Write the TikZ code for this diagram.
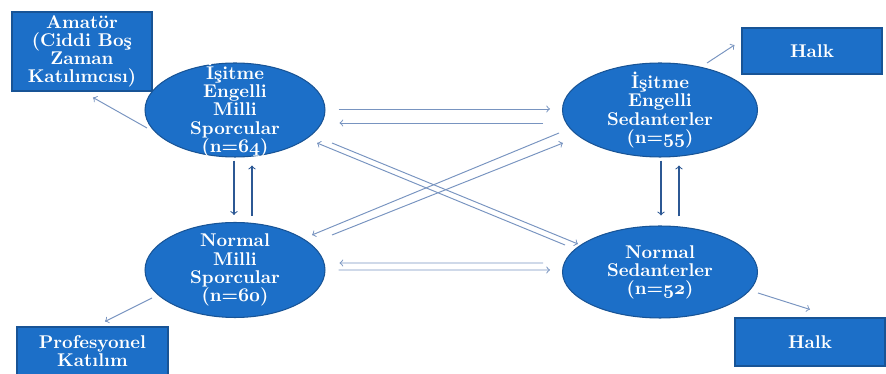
\documentclass[tikz,border=0pt]{standalone}
\usetikzlibrary{shapes.geometric}
\definecolor{ovalblue}{RGB}{28,111,200}
\definecolor{ovalline}{RGB}{24,84,150}
\definecolor{arrgrey}{RGB}{120,148,192}
\definecolor{arrdark}{RGB}{44,88,148}
\newcommand\osn[1]{{\boldmath$\oldstylenums{#1}$}}
\begin{document}
\begin{tikzpicture}[x=0.02cm, y=-0.02cm,
  oval/.style={ellipse, draw=ovalline, fill=ovalblue, line width=0.6pt, inner sep=0pt},
  box/.style={rectangle, draw=ovalline, fill=ovalblue, line width=0.6pt, inner sep=0pt},
  txt/.style={text=white, align=center, inner sep=0pt,
    font=\fontsize{10.5}{10.3}\selectfont\bfseries},
  arr/.style={->, draw=arrgrey, line width=0.55pt},
  varr/.style={->, draw=arrdark, line width=0.6pt}]
\useasboundingbox (0,0) rectangle (886,374);

% the four groups
\node[oval, minimum width=3.6cm, minimum height=1.88cm] (iem) at (235,110) {};
\node[oval, minimum width=3.9cm, minimum height=1.88cm] (ies) at (660,110) {};
\node[oval, minimum width=3.6cm, minimum height=1.9cm] (nms) at (235,270) {};
\node[oval, minimum width=3.9cm, minimum height=1.84cm] (nse) at (660,272) {};
\node[txt] (iemt) at (iem) {İşitme\\Engelli\\Milli\\Sporcular\\(n=\osn{64})};
\node[txt] (iest) at (ies) {İşitme\\Engelli\\Sedanterler\\(n=\osn{55})};
\node[txt] (nmst) at (nms) {Normal\\Milli\\Sporcular\\(n=\osn{60})};
\node[txt] (nset) at (nse) {Normal\\Sedanterler\\(n=\osn{52})};

% outcome boxes
\node[box, minimum width=2.8cm, minimum height=1.58cm] (amator) at (82,51.5) {};
\node[box, minimum width=2.8cm, minimum height=0.92cm] (halka) at (812,51) {};
\node[box, minimum width=3.02cm, minimum height=0.98cm] (profe) at (92.5,351.5) {};
\node[box, minimum width=3.0cm, minimum height=0.96cm] (halkb) at (810,342) {};
\node[txt] (amatort) at (amator) {Amatör\\(Ciddi Boş\\Zaman\\Katılımcısı)};
\node[txt] (halkat) at (halka) {Halk};
\node[txt] (profet) at (profe) {Profesyonel\\Katılım};
\node[txt] (halkbt) at (halkb) {Halk};

% horizontal pairs
\draw[arr, shorten <=0.26cm, shorten >=0.24cm] ([yshift=0.02cm]iem.east) -- ([yshift=0.02cm]ies.west);
\draw[arr, shorten <=0.38cm, shorten >=0.28cm] ([yshift=-0.26cm]ies.west) -- ([yshift=-0.26cm]iem.east);
\draw[arr, shorten <=0.38cm, shorten >=0.28cm] ([yshift=0.18cm]nse.west) -- ([yshift=0.14cm]nms.east);
\draw[arr, shorten <=0.26cm, shorten >=0.24cm] (nms.east) -- ([yshift=0.04cm]nse.west);

% vertical pairs
\draw[varr, shorten <=0.06cm, shorten >=0.14cm] ([xshift=-0.02cm]iem.south) -- ([xshift=-0.02cm]nms.north);
\draw[varr, shorten <=0.12cm, shorten >=0.16cm] ([xshift=0.34cm]nms.north) -- ([xshift=0.34cm]iem.south);
\draw[varr, shorten <=0.06cm, shorten >=0.2cm] ([xshift=0.02cm]ies.south) -- ([xshift=0.02cm]nse.north);
\draw[varr, shorten <=0.18cm, shorten >=0.16cm] ([xshift=0.38cm]nse.north) -- ([xshift=0.38cm]ies.south);

% crossing pairs
\draw[arr] ([shift={(97,33)}]iem.center) -- ([shift={(-82,-28)}]nse.center);
\draw[arr] ([shift={(-95,-27)}]nse.center) -- ([shift={(82,33)}]iem.center);
\draw[arr] ([shift={(-101,23)}]ies.center) -- ([shift={(77,-35)}]nms.center);
\draw[arr] ([shift={(97,-35)}]nms.center) -- ([shift={(-97,33)}]ies.center);

% to the outcomes
\draw[arr] ([shift={(-88,18)}]iem.center) -- ([shift={(11,6)}]amator.south);
\draw[arr] ([shift={(47,-47)}]ies.center) -- ([shift={(-7,-6)}]halka.west);
\draw[arr] ([shift={(-83,28)}]nms.center) -- ([shift={(12.5,-5)}]profe.north);
\draw[arr] ([shift={(98,21)}]nse.center) -- ([shift={(0,-8)}]halkb.north);
\end{tikzpicture}
\end{document}
